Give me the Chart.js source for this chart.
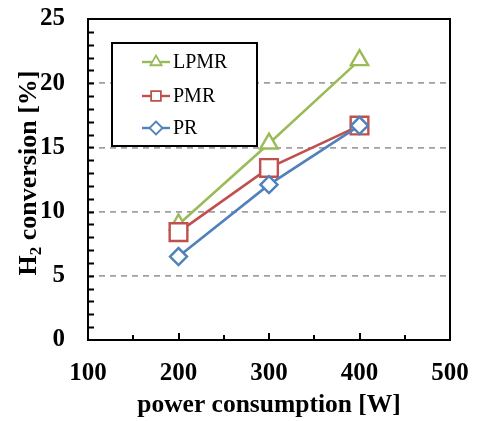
<!DOCTYPE html>
<html>
<head>
<meta charset="utf-8">
<script src="https://cdn.jsdelivr.net/npm/chart.js@4"></script>
<style>
  html, body { margin: 0; padding: 0; background: #fff; }
</style>
</head>
<body>
<canvas id="chart" width="477" height="421"></canvas>
<script>
"use strict";

// ===== data =====
const powerW = [200, 300, 400];
const lpmr = [9.0, 15.3, 21.8];
const pmr = [8.4, 13.4, 16.7];
const pr = [6.5, 12.1, 16.7];

const seriesNames = ['LPMR', 'PMR', 'PR'];
const seriesColors = ['#9BBB59', '#C0504D', '#4F81BD'];
const seriesStyles = ['triangle', 'rect', 'rectRot'];

const SERIF = '"Liberation Serif", "Times New Roman", serif';

const pts = (ys) => ys.map((y, i) => ({ x: powerW[i], y }));

// small marker drawer for the legend
function marker(ctx, style, x, y, r) {
    ctx.beginPath();
    if (style === 'triangle') {
        ctx.moveTo(x, y - r);
        ctx.lineTo(x + r * 0.866, y + r * 0.5);
        ctx.lineTo(x - r * 0.866, y + r * 0.5);
        ctx.closePath();
    } else if (style === 'rect') {
        const s = r * 0.75;
        ctx.rect(x - s, y - s, 2 * s, 2 * s);
    } else {
        ctx.moveTo(x, y - r);
        ctx.lineTo(x + r, y);
        ctx.lineTo(x, y + r);
        ctx.lineTo(x - r, y);
        ctx.closePath();
    }
    ctx.fill();
    ctx.stroke();
}

const framePlugin = {
    id: 'frame',
    afterDatasetsDraw(chart) {
        const { ctx, chartArea: a, scales: { x, y } } = chart;
        ctx.save();
        ctx.strokeStyle = '#000';

        // inner ticks
        ctx.lineWidth = 2;
        ctx.beginPath();
        for (let v = 1; v < 25; v++) {
            const py = Math.round(y.getPixelForValue(v)) + 0.5;
            ctx.moveTo(a.left, py);
            ctx.lineTo(a.left + 6, py);
        }
        for (let v = 150; v < 500; v += 50) {
            const px = Math.round(x.getPixelForValue(v));
            ctx.moveTo(px, a.bottom);
            ctx.lineTo(px, a.bottom - (v % 100 === 0 ? 7 : 5));
        }
        ctx.stroke();

        // plot border
        ctx.lineWidth = 2;
        ctx.strokeRect(a.left, a.top, a.right - a.left, a.bottom - a.top);

        // legend box
        const bx = 112, by = 43, bw = 145, bh = 103;
        ctx.fillStyle = '#fff';
        ctx.fillRect(bx, by, bw, bh);
        ctx.lineWidth = 2;
        ctx.strokeRect(bx, by, bw, bh);
        const rowsY = [62, 96, 128];
        ctx.font = '20px ' + SERIF;
        ctx.textBaseline = 'middle';
        seriesNames.forEach((name, i) => {
            const ly = rowsY[i];
            ctx.strokeStyle = seriesColors[i];
            ctx.lineWidth = 2.4;
            ctx.beginPath();
            ctx.moveTo(142, ly);
            ctx.lineTo(170, ly);
            ctx.stroke();
            ctx.fillStyle = '#fff';
            ctx.lineWidth = 1.8;
            marker(ctx, seriesStyles[i], 156, ly, 6.5);
            ctx.fillStyle = '#000';
            ctx.fillText(name, 173, ly + 1);
        });

        // y axis title with subscript
        ctx.translate(27, 173);
        ctx.rotate(-Math.PI / 2);
        const big = 'bold 26px ' + SERIF, small = 'bold 17px ' + SERIF;
        ctx.font = big;
        const wH = ctx.measureText('H').width;
        const wRest = ctx.measureText(' conversion [%]').width;
        ctx.font = small;
        const w2 = ctx.measureText('2').width;
        let cx = -(wH + w2 + wRest) / 2;
        ctx.fillStyle = '#000';
        ctx.textBaseline = 'alphabetic';
        ctx.textAlign = 'left';
        ctx.font = big;
        ctx.fillText('H', cx, 9);
        cx += wH;
        ctx.font = small;
        ctx.fillText('2', cx, 14);
        cx += w2;
        ctx.font = big;
        ctx.fillText(' conversion [%]', cx, 9);
        ctx.restore();
    }
};

new Chart(document.getElementById('chart'), {
    type: 'scatter',
    data: {
        datasets: [
            { label: seriesNames[0], data: pts(lpmr), order: 3 },
            { label: seriesNames[1], data: pts(pmr), order: 2 },
            { label: seriesNames[2], data: pts(pr), order: 1 }
        ].map((d, i) => Object.assign(d, {
            showLine: true,
            borderColor: seriesColors[i],
            borderWidth: 2.6,
            pointStyle: seriesStyles[i],
            pointRadius: [10, 12.5, 8.5][i],
            pointBorderWidth: 2.4,
            pointBackgroundColor: '#fff',
            pointBorderColor: seriesColors[i],
            tension: 0
        }))
    },
    options: {
        responsive: false,
        animation: false,
        events: [],
        layout: { autoPadding: false, padding: { top: 19, right: 27, left: 0, bottom: 0 } },
        scales: {
            x: {
                type: 'linear', min: 100, max: 500,
                afterFit: (s) => { s.height = 81; },
                ticks: { stepSize: 100, color: '#000', padding: 0,
                         font: { family: SERIF, size: 25, weight: 'bold' } },
                grid: { display: false, drawTicks: true, tickLength: 19 },
                border: { display: false },
                title: { display: true, text: 'power consumption [W]', color: '#000',
                         padding: { top: 4, bottom: 0 },
                         font: { family: SERIF, size: 25.5, weight: 'bold' } }
            },
            y: {
                min: 0, max: 25,
                afterFit: (s) => { s.width = 88; },
                ticks: { stepSize: 5, color: '#000', padding: 0,
                         font: { family: SERIF, size: 25, weight: 'bold' } },
                grid: { drawTicks: true, tickLength: 23, tickColor: 'rgba(0,0,0,0)', lineWidth: 1.8,
                        color: (c) => (c.tick && (c.tick.value === 0 || c.tick.value === 25)) ? 'rgba(0,0,0,0)' : '#A0A0A0' },
                border: { display: false, dash: [6, 5] }
            }
        },
        plugins: {
            legend: { display: false },
            tooltip: { enabled: false }
        }
    },
    plugins: [framePlugin]
});
</script>
</body>
</html>
